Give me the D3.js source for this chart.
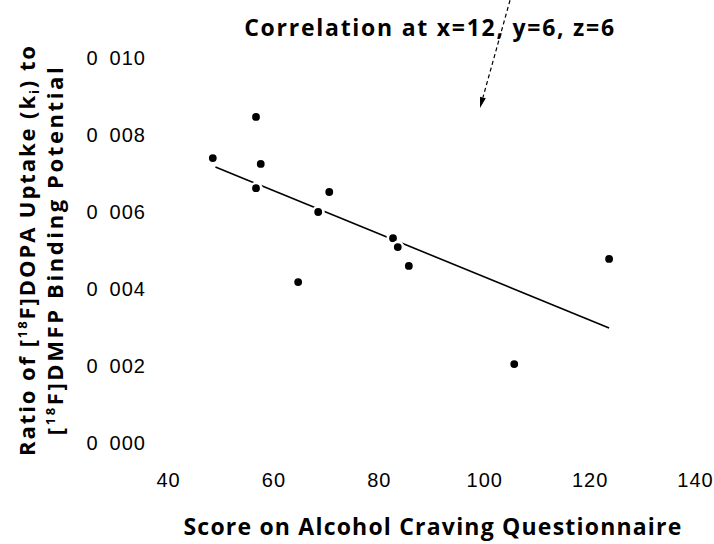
<!DOCTYPE html>
<html>
<head>
<meta charset="utf-8">
<script src="https://cdn.jsdelivr.net/npm/d3@7"></script>
<style>
  body { margin: 0; background: #fff; }
  text { fill: #000; }
  .tick text { font-family: "Liberation Sans", Arial, sans-serif; font-size: 20px; }
  .ttl { font-family: "Open Sans", "Liberation Sans", sans-serif; font-weight: 700; }
</style>
</head>
<body>
<div id="chart"></div>
<script>
// data
var scores = [48.5, 56.7, 57.6, 56.7, 68.5, 70.6, 64.7, 82.7, 83.6, 85.7, 105.7, 123.7];
var ratios = [0.0074, 0.00847, 0.00725, 0.00662, 0.0060, 0.00652, 0.00418, 0.00532, 0.00509, 0.0046, 0.00205, 0.00478];
// fitted line end points
var fitX = [49, 123.7];
var fitY = [0.00717, 0.00299];
var xTicks = [40, 60, 80, 100, 120, 140];
var yTicks = [0, 0.002, 0.004, 0.006, 0.008, 0.010];
// annotation arrow (from, to) in data units
var arrowX = [104.9, 99.2];
var arrowY = [0.0115, 0.0087];

var width = 714;
var height = 544;

var svg = d3.select("#chart")
    .append("svg")
    .attr("width", width)
    .attr("height", height);

var x = d3.scaleLinear().domain([40, 140]).range([168, 695]);
var y = d3.scaleLinear().domain([0, 0.010]).range([443, 58]);

// stretch letter spacing so a text fills a given length
function fitLength(sel, target) {
    var n = sel.text().length;
    var len = sel.node().getComputedTextLength();
    sel.attr("letter-spacing", ((target - len) / (n - 1)).toFixed(2));
}

// x axis
var xAxis = d3.axisBottom(x).tickValues(xTicks).tickSize(0).tickPadding(7);
var gx = svg.append("g")
    .attr("transform", "translate(0,466)")
    .call(xAxis);
gx.select(".domain").remove();
gx.selectAll("text").attr("letter-spacing", 1);

// y axis, labels show the decimal point as a gap like the scan
var yAxis = d3.axisLeft(y).tickValues(yTicks).tickSize(0).tickPadding(0)
    .tickFormat(function(d) { return d3.format(".3f")(d).replace(".", "\u2002"); });
var gy = svg.append("g")
    .attr("transform", "translate(146,0)")
    .call(yAxis);
gy.select(".domain").remove();
gy.selectAll("text").attr("letter-spacing", 1);

// regression line
var line = d3.line()
    .x(function(d) { return x(d[0]); })
    .y(function(d) { return y(d[1]); });
svg.append("path")
    .datum(d3.zip(fitX, fitY))
    .attr("d", line)
    .attr("fill", "none")
    .attr("stroke", "#000")
    .attr("stroke-width", 1.6);

// points, white rim cuts the line
svg.selectAll("circle.pt")
    .data(d3.zip(scores, ratios))
    .enter()
    .append("circle")
    .attr("class", "pt")
    .attr("cx", function(d) { return x(d[0]); })
    .attr("cy", function(d) { return y(d[1]); })
    .attr("r", 5.2)
    .attr("fill", "#000")
    .attr("stroke", "#fff")
    .attr("stroke-width", 2.6);

// title
var title = svg.append("text")
    .attr("class", "ttl")
    .attr("x", 430)
    .attr("y", 36)
    .attr("text-anchor", "middle")
    .attr("font-size", 23)
    .text("Correlation at x=12, y=6, z=6");
fitLength(title, 370);

// dashed arrow
var ax0 = x(arrowX[0]), ay0 = y(arrowY[0]);
var ax1 = x(arrowX[1]), ay1 = y(arrowY[1]);
var ang = Math.atan2(ay1 - ay0, ax1 - ax0);
var headLen = 11, headW = 3;
var bx = ax1 - headLen * Math.cos(ang), by = ay1 - headLen * Math.sin(ang);
svg.append("line")
    .attr("x1", ax0).attr("y1", ay0)
    .attr("x2", bx).attr("y2", by)
    .attr("stroke", "#000")
    .attr("stroke-width", 1.2)
    .attr("stroke-dasharray", "4,3");
svg.append("path")
    .attr("d", "M" + ax1 + "," + ay1 +
        "L" + (bx + headW * Math.sin(ang)) + "," + (by - headW * Math.cos(ang)) +
        "L" + (bx - headW * Math.sin(ang)) + "," + (by + headW * Math.cos(ang)) + "Z")
    .attr("fill", "#000");

// x axis title
var xt = svg.append("text")
    .attr("class", "ttl")
    .attr("x", 433)
    .attr("y", 535)
    .attr("text-anchor", "middle")
    .attr("font-size", 23)
    .attr("font-weight", 600)
    .text("Score on Alcohol Craving Questionnaire");
fitLength(xt, 498);

// y axis title, two rotated lines with sub/superscripts
var yt = svg.append("g").attr("transform", "translate(0,250) rotate(-90)");

var l1 = yt.append("text")
    .attr("class", "ttl")
    .attr("y", 35)
    .attr("text-anchor", "middle")
    .attr("font-size", 22);
l1.append("tspan").text("Ratio of [");
l1.append("tspan").attr("font-size", 13).attr("dy", -8).text("18");
l1.append("tspan").attr("dy", 8).text("F]DOPA Uptake (k");
l1.append("tspan").attr("font-size", 13).attr("dy", 4).text("i");
l1.append("tspan").attr("dy", -4).text(") to");
fitLength(l1, 410);

var l2 = yt.append("text")
    .attr("class", "ttl")
    .attr("y", 63)
    .attr("text-anchor", "middle")
    .attr("font-size", 22);
l2.append("tspan").text("[");
l2.append("tspan").attr("font-size", 13).attr("dy", -8).text("18");
l2.append("tspan").attr("dy", 8).text("F]DMFP Binding Potential");
fitLength(l2, 368);
</script>
</body>
</html>
